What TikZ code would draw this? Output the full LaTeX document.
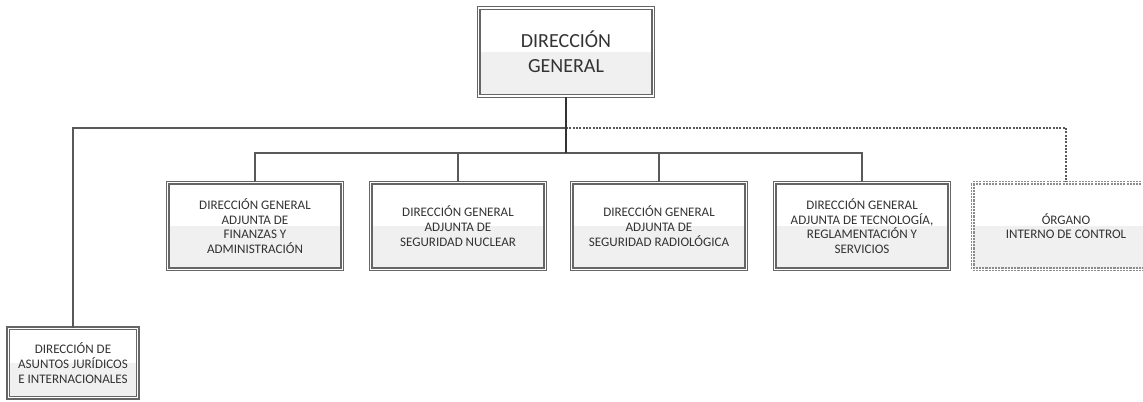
\documentclass[tikz,border=0pt]{standalone}
\usepackage{fontspec}
\setmainfont{Carlito}
\usetikzlibrary{positioning}

\begin{document}
\begin{tikzpicture}[
  x=0.75pt, y=-0.75pt,
  font=\fontsize{9.8}{11}\selectfont, text=black!80,
  unit/.style={draw=black!60, double=white, double distance=1.1pt, line width=1pt,
    align=center, inner sep=0pt, minimum width=131pt, minimum height=65pt,
    path picture={\fill[black!6] (path picture bounding box.west) rectangle (path picture bounding box.south east);}},
  head/.style={unit, minimum height=66pt, font=\fontsize{15}{19}\selectfont},
  organ/.style={unit, draw=black!45, dash pattern=on 1.6pt off 0.8pt, minimum width=140pt},
  link/.style={draw=black!65, line width=1pt},
  trunk/.style={draw=black!80, line width=1.6pt},
  aside/.style={link, dash pattern=on 1.5pt off 1pt},
]
\useasboundingbox (0,0) rectangle (1143,401);

% ============ TOP ============
\node[head] (DG) at (566,52) {DIRECCIÓN\\GENERAL};

% ============ ADJUNTAS ============
\node[unit] (DGAFA)  at (255,226) {DIRECCIÓN GENERAL\\ADJUNTA DE\\FINANZAS Y\\ADMINISTRACIÓN};
\node[unit] (DGASN)  at (458,226) {DIRECCIÓN GENERAL\\ADJUNTA DE\\SEGURIDAD NUCLEAR};
\node[unit] (DGASR)  at (659,226) {DIRECCIÓN GENERAL\\ADJUNTA DE\\SEGURIDAD RADIOLÓGICA};
\node[unit] (DGATRS) at (862,226) {DIRECCIÓN GENERAL\\ADJUNTA DE TECNOLOGÍA,\\REGLAMENTACIÓN Y\\SERVICIOS};

% ============ STAFF ============
\node[organ] (OIC) at (1066,226) {ÓRGANO\\INTERNO DE CONTROL};
\node[unit, minimum width=97pt, minimum height=52pt] (DAJI) at (73,363)
  {DIRECCIÓN DE\\ASUNTOS JURÍDICOS\\E INTERNACIONALES};

% ============ CONNECTORS ============
\coordinate (side) at (566,128);
\coordinate (bus)  at (566,153);

\draw[link]  (side) -| (DAJI.north);
\draw[aside] (side) -| (OIC.north);
\draw[link]  (DGAFA.north) |- (bus) -| (DGATRS.north);
\draw[link]  (DGASN.north) -- (DGASN.north |- bus);
\draw[link]  (DGASR.north) -- (DGASR.north |- bus);
\draw[trunk] (DG.south) -- (bus);

\end{tikzpicture}
\end{document}
